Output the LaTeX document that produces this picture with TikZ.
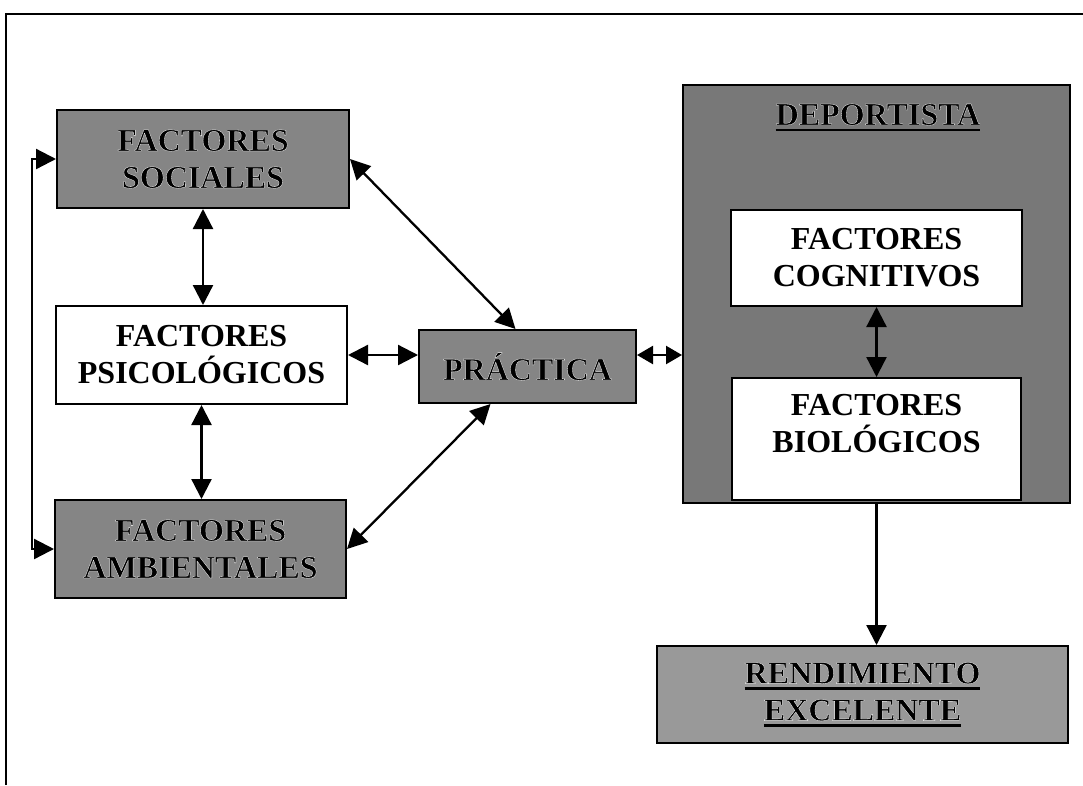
\documentclass[tikz,border=0pt]{standalone}
\usepackage{fontspec}
\setmainfont{Liberation Serif}
\usetikzlibrary{arrows.meta}
\definecolor{boxgray}{gray}{0.52}
\definecolor{depgray}{gray}{0.47}
\definecolor{rengray}{gray}{0.6}
% white outline round black letters (fill + white stroke), one copy of the text
\newcommand\embon{\special{pdf:literal direct 2 Tr 1 1 1 RG 0.3 w 1 j}}
\newcommand\emboff{\special{pdf:literal direct 0 Tr}}
\newcommand\ulword[1]{\setbox0\hbox{#1}\copy0\llap{\color{black}\rule[-6pt]{\wd0}{2.2pt}}}
\begin{document}
\begin{tikzpicture}[x=1pt,y=-1pt,
  bx/.style={draw=black, line width=2pt, inner sep=0pt, align=center,
    font=\fontsize{32}{37}\selectfont\bfseries},
  whitebox/.style={bx, fill=white},
  graybox/.style={bx, fill=boxgray},
  lbl/.style={inner sep=0pt, align=center, font=\fontsize{32}{37}\selectfont\bfseries},
  conn/.style={line width=2.3pt, {Triangle[length=20pt,width=20pt]}-{Triangle[length=20pt,width=20pt]}},
  shortconn/.style={line width=2.3pt, {Triangle[length=16pt,width=18pt]}-{Triangle[length=16pt,width=18pt]}},
  oneway/.style={line width=2.3pt, -{Triangle[length=20pt,width=20pt]}}]
\useasboundingbox (0,0) rectangle (1083,785);
% frame (top and left only)
\draw[line width=1.8pt] (6,785) -- (6,14) -- (1083,14);

% left column
\node[graybox, minimum width=292pt, minimum height=98pt] (soc) at (203,159)
  {\embon FACTORES\\\embon SOCIALES\emboff};
\node[whitebox, minimum width=291pt, minimum height=98pt] (psi) at (201.5,355)
  {FACTORES\\PSICOLÓGICOS};
\node[graybox, minimum width=291pt, minimum height=98pt] (amb) at (200.5,549)
  {\embon FACTORES\\\embon AMBIENTALES\emboff};

% practica
\node[graybox, minimum width=217pt, minimum height=73pt] (pra) at (527.5,366.5)
  {\embon PRÁCTICA\emboff};

% deportista
\node[bx, fill=depgray, minimum width=387pt, minimum height=418pt] (dep) at (876.5,294) {};
\node[lbl, anchor=base] (depT) at (878,125) {\ulword{\embon DEPORTISTA\emboff}};
\node[whitebox, minimum width=291pt, minimum height=96pt] (cog) at (876.5,258)
  {FACTORES\\COGNITIVOS};
\node[whitebox, minimum width=289pt, minimum height=122pt] (bio) at (876.5,439) {};
\node[lbl] (bioT) at (876.5,424) {FACTORES\\BIOLÓGICOS};

% rendimiento
\node[bx, fill=rengray, minimum width=411pt, minimum height=97pt] (ren) at (862.5,694.5)
  {\ulword{\embon RENDIMIENTO\emboff}\\\ulword{\embon EXCELENTE\emboff}};

% connectors
\draw[conn] (soc.west) -- ([xshift=-24pt]soc.west) |- (amb.west);
\draw[conn] (soc.south) -- (soc.south |- psi.north);
\draw[conn] (psi.south) -- (psi.south |- amb.north);
\draw[conn] (psi.east) -- (psi.east -| pra.west);
\draw[conn] (soc.east) -- ([xshift=-12pt]pra.north);
\draw[conn] (amb.east) -- ([xshift=-37pt]pra.south);
\draw[shortconn] (pra.east |- psi.east) -- (dep.west |- psi.east);
\draw[conn] (cog.south) -- (bio.north);
\draw[oneway] (dep.south) -- (dep.south |- ren.north);
\end{tikzpicture}
\end{document}
